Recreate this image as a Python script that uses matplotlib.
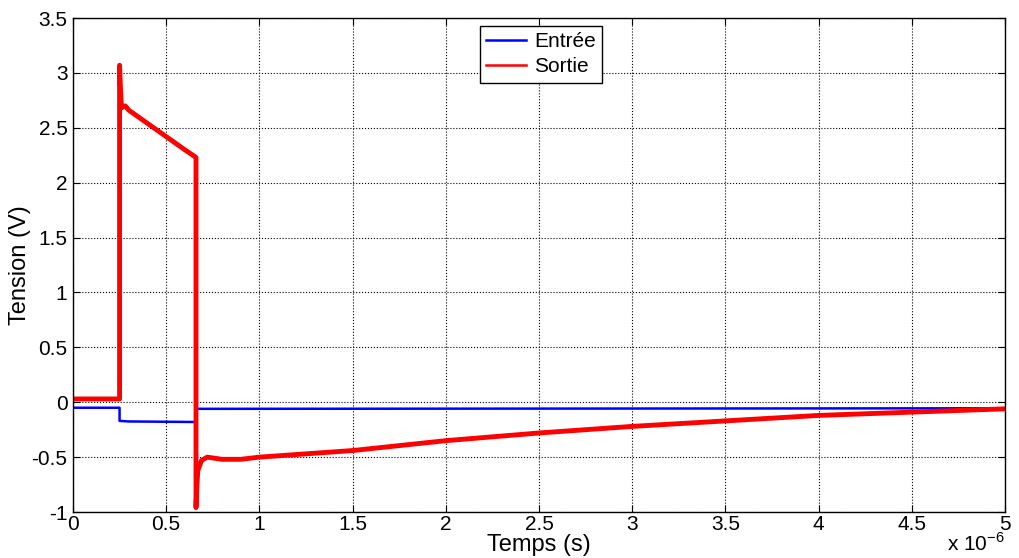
import matplotlib.pyplot as plt

plt.rcParams['font.family'] = ['Liberation Sans', 'DejaVu Sans']
plt.rcParams['mathtext.fontset'] = 'custom'
plt.rcParams['mathtext.rm'] = 'Liberation Sans'

# time in microseconds, voltage in V
t_in = [0, 0.25, 0.25, 0.30, 0.66, 0.66, 5.0]
v_in = [-0.05, -0.05, -0.17, -0.175, -0.18, -0.06, -0.055]

t_out = [0, 0.25, 0.25, 0.255, 0.26, 0.265, 0.28, 0.30, 0.40, 0.50, 0.60, 0.66,
         0.66, 0.665, 0.67, 0.69, 0.72, 0.80, 0.90, 1.0, 1.5, 2.0, 2.5, 3.0,
         3.5, 4.0, 4.5, 5.0]
v_out = [0.03, 0.03, 3.07, 2.85, 2.68, 2.69, 2.70, 2.66, 2.54, 2.42, 2.30, 2.23,
         -0.96, -0.75, -0.62, -0.53, -0.50, -0.52, -0.52, -0.50, -0.44, -0.35,
         -0.28, -0.22, -0.17, -0.12, -0.09, -0.06]

fig = plt.figure(figsize=(10.19, 5.58), dpi=100)
ax = fig.add_axes([0.0716, 0.0824, 0.9147, 0.8853])

ax.plot(t_in, v_in, color='#0000ff', linewidth=1.8, label='Entrée')
ax.plot(t_out, v_out, color='#ff0000', linewidth=3.5, label='Sortie')

ax.set_xlim(0, 5)
ax.set_ylim(-1, 3.5)
ax.set_xticks([0, 0.5, 1, 1.5, 2, 2.5, 3, 3.5, 4, 4.5, 5])
ax.set_xticklabels(['0', '0.5', '1', '1.5', '2', '2.5', '3', '3.5', '4', '4.5', '5'])
ax.set_yticks([-1, -0.5, 0, 0.5, 1, 1.5, 2, 2.5, 3, 3.5])
ax.set_yticklabels(['-1', '-0.5', '0', '0.5', '1', '1.5', '2', '2.5', '3', '3.5'])
ax.tick_params(direction='in', top=True, right=True, labelsize=15, length=5)
ax.tick_params(axis='x', pad=2)
ax.tick_params(axis='y', pad=4)
ax.grid(True, color='black', linestyle=':', linewidth=0.8)
for s in ax.spines.values():
    s.set_linewidth(1.0)

ax.set_xlabel('Temps (s)', fontsize=17, labelpad=0)
ax.set_ylabel('Tension (V)', fontsize=17, labelpad=0)
fig.text(0.986, 0.006, r'x 10$^{\mathrm{-6}}$', fontsize=15, ha='right', va='bottom')

leg = ax.legend(loc='upper center', bbox_to_anchor=(0.502, 0.984), fontsize=15,
                frameon=True, fancybox=False, edgecolor='black', framealpha=1,
                handlelength=1.9, borderpad=0.3, labelspacing=0.3, handletextpad=0.4,
                borderaxespad=0)
leg.get_frame().set_linewidth(1.0)
for h in leg.get_lines():
    h.set_linewidth(1.8)

fig.savefig('out.png', dpi=100)
plt.close(fig)
